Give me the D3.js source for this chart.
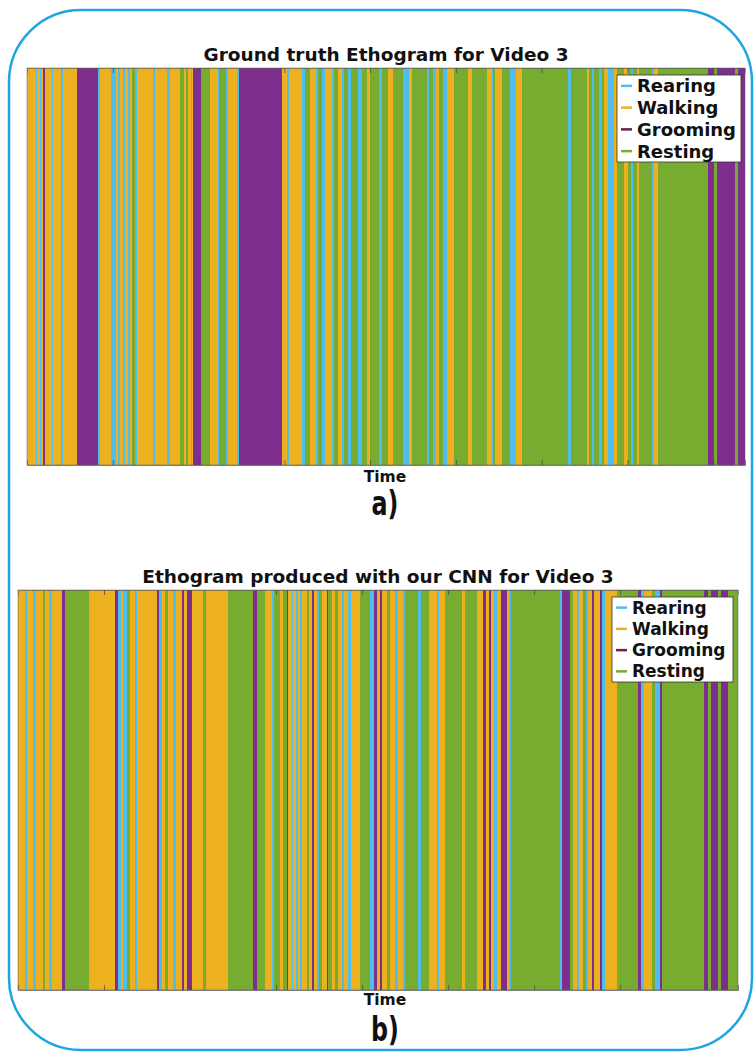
<!DOCTYPE html>
<html>
<head>
<meta charset="utf-8">
<script src="https://cdn.jsdelivr.net/npm/d3@7/dist/d3.min.js"></script>
<style>
  html, body { margin: 0; padding: 0; background: #fff; }
  svg { display: block; }
  text { font-family: "DejaVu Sans", sans-serif; fill: #111; }
</style>
</head>
<body>
<svg id="fig" width="754" height="1055"></svg>
<script>
// Behaviour classes and their colours
const behaviours = ["Rearing", "Walking", "Grooming", "Resting"];
const behaviourColors = ["#4DBEEE", "#EDB120", "#7E2F8E", "#77AC30"];
const legendLineColors = ["#4DBEEE", "#EDB120", "#6E1F4E", "#77AC30"];
const totalFrames = 8370;
const tickStep = 1000;

// Ground-truth annotation: bout start frames and behaviour index (0 R, 1 W, 2 G, 3 S)
const truthStarts = [0,105,120,152,167,190,210,288,307,396,416,583,824,851,979,1034,1064,1084,1116,1139,
  1174,1201,1227,1255,1279,1472,1496,1628,1667,1784,1830,1848,1877,1912,1923,1939,2028,2133,2223,2242,
  2316,2340,2448,2471,2969,3027,3054,3202,3241,3299,3369,3396,3435,3474,3552,3579,3629,3668,3699,3745,
  3773,3862,3902,3960,3998,4107,4135,4212,4270,4380,4457,4484,4659,4686,4736,4764,4806,4853,4900,4978,
  5144,5184,5359,5417,5436,5455,5534,5630,5697,5767,6310,6338,6524,6555,6590,6613,6671,6699,6730,6769,
  6846,6874,6963,7002,7041,7068,7107,7134,7282,7309,7359,7942,8012,8047,8253,8285];
const truthStates = [1,0,1,0,1,2,1,0,1,0,1,2,0,1,0,1,0,1,0,1,
  0,1,3,0,1,0,1,0,1,3,1,3,1,0,1,2,3,1,0,3,
  0,1,0,2,1,0,1,0,3,1,0,3,0,1,0,3,1,0,3,0,
  3,0,3,1,3,0,3,1,3,0,1,3,0,3,0,1,3,0,1,3,
  1,3,1,0,3,1,3,0,1,3,0,3,1,3,0,3,0,3,1,0,
  1,3,1,3,0,3,1,3,0,1,3,2,3,2,3,2];

// Network prediction: bout start frames and behaviour index
const cnnStarts = [0,81,108,178,206,287,314,364,392,508,546,829,1128,1166,1194,1224,1264,1302,1360,1380,
  1612,1639,1671,1709,1740,1805,1837,1903,1930,1959,2026,2154,2182,2438,2735,2775,2871,2956,2980,3046,
  3084,3124,3142,3182,3200,3228,3252,3278,3305,3356,3383,3414,3437,3472,3503,3531,3589,3607,3647,3685,
  3716,3763,3793,3833,3871,3976,4092,4139,4177,4208,4228,4286,4325,4383,4421,4472,4499,4653,4681,4781,
  4867,4898,4964,5158,5196,5332,5409,5441,5479,5504,5534,5565,5611,5681,5711,5735,6301,6327,6417,6455,
  6495,6522,6572,6600,6630,6669,6700,6766,6793,6824,6960,7211,7242,7281,7367,7405,7463,7483,7978,8025,
  8056,8141,8172,8257];
const cnnStates = [1,0,1,0,1,3,1,0,1,2,3,1,2,0,1,0,3,1,0,1,
  2,0,1,3,1,0,1,2,1,2,1,3,1,3,2,3,1,0,3,1,
  3,2,1,0,1,0,1,0,1,3,1,2,1,0,3,1,2,3,1,3,
  1,0,1,0,1,3,0,2,1,2,1,3,1,0,1,0,3,0,3,1,
  0,1,3,1,3,1,2,1,2,1,0,1,2,1,0,3,0,2,3,1,
  0,1,3,0,1,2,1,2,0,1,3,2,0,1,3,0,2,3,2,3,
  2,3,2,3];

const panels = [
  { title: "Ground truth Ethogram for Video 3", tag: "a)", starts: truthStarts, states: truthStates,
    left: 27, right: 745, top: 68, bottom: 465, titleX: 386, titleY: 61, timeY: 482, tagY: 515,
    legend: { x: 617, y: 75, w: 124, h: 87, font: 18 } },
  { title: "Ethogram produced with our CNN for Video 3", tag: "b)", starts: cnnStarts, states: cnnStates,
    left: 18, right: 738, top: 590, bottom: 990, titleX: 378, titleY: 583, timeY: 1005, tagY: 1041,
    legend: { x: 612, y: 597, w: 121, h: 85, font: 17 } }
];

const svg = d3.select("#fig");

// Rounded frame around the whole figure
svg.append("rect")
  .attr("x", 9).attr("y", 10).attr("width", 743).attr("height", 1040)
  .attr("rx", 72).attr("ry", 72)
  .attr("fill", "none").attr("stroke", "#1FA6E0").attr("stroke-width", 2.5);

panels.forEach(p => {
  const x = d3.scaleLinear().domain([0, totalFrames]).range([p.left, p.right]);
  const g = svg.append("g");

  const bouts = p.starts.map((s, i) => ({
    start: s,
    end: i + 1 < p.starts.length ? p.starts[i + 1] : totalFrames,
    state: p.states[i]
  }));

  g.selectAll("rect.bout").data(bouts).join("rect")
    .attr("class", "bout")
    .attr("x", d => x(d.start))
    .attr("y", p.top)
    .attr("width", d => Math.max(0.8, x(d.end) - x(d.start)))
    .attr("height", p.bottom - p.top)
    .attr("fill", d => behaviourColors[d.state])
    .attr("shape-rendering", "crispEdges");

  // Axis box and ticks (no tick labels)
  const ticks = d3.range(tickStep, totalFrames, tickStep);
  g.append("rect")
    .attr("x", p.left).attr("y", p.top)
    .attr("width", p.right - p.left).attr("height", p.bottom - p.top)
    .attr("fill", "none").attr("stroke", "#5a5a5a").attr("stroke-opacity", 0.6).attr("stroke-width", 0.8);
  const bottomAxis = d3.axisBottom(x).tickValues(ticks).tickSize(-5).tickFormat("");
  const topAxis = d3.axisTop(x).tickValues(ticks).tickSize(-5).tickFormat("");
  g.append("g").attr("transform", `translate(0,${p.bottom})`).call(bottomAxis)
    .call(a => a.select(".domain").attr("stroke", "#555").attr("stroke-opacity", 0.7))
    .call(a => a.selectAll(".tick line").attr("stroke", "#444").attr("stroke-opacity", 0.7));
  g.append("g").attr("transform", `translate(0,${p.top})`).call(topAxis)
    .call(a => a.select(".domain").attr("stroke", "#555").attr("stroke-opacity", 0.5))
    .call(a => a.selectAll(".tick line").attr("stroke", "#444").attr("stroke-opacity", 0.7));

  // Titles and labels
  svg.append("text")
    .attr("x", p.titleX).attr("y", p.titleY)
    .attr("text-anchor", "middle")
    .attr("font-size", 18.5).attr("font-weight", "bold")
    .text(p.title);
  svg.append("text")
    .attr("x", 385).attr("y", p.timeY)
    .attr("text-anchor", "middle")
    .attr("font-size", 15.5).attr("font-weight", "bold")
    .text("Time");
  // Panel tag in a narrow, heavy face
  svg.append("text")
    .attr("transform", `translate(385,${p.tagY}) scale(0.7,1)`)
    .attr("text-anchor", "middle")
    .attr("font-size", 34).attr("font-weight", "bold")
    .text(p.tag);

  // Legend
  const L = p.legend;
  const lg = svg.append("g").attr("transform", `translate(${L.x},${L.y})`);
  lg.append("rect").attr("width", L.w).attr("height", L.h)
    .attr("fill", "#fff").attr("stroke", "#333").attr("stroke-width", 0.8);
  const rowH = L.h / 4;
  behaviours.forEach((b, i) => {
    const cy = rowH * (i + 0.5);
    lg.append("line")
      .attr("x1", 4).attr("x2", 15).attr("y1", cy).attr("y2", cy)
      .attr("stroke", legendLineColors[i]).attr("stroke-width", 2.5);
    lg.append("text")
      .attr("x", 20).attr("y", cy + L.font * 0.36)
      .attr("font-size", L.font).attr("font-weight", "bold")
      .text(b);
  });
});
</script>
</body>
</html>
